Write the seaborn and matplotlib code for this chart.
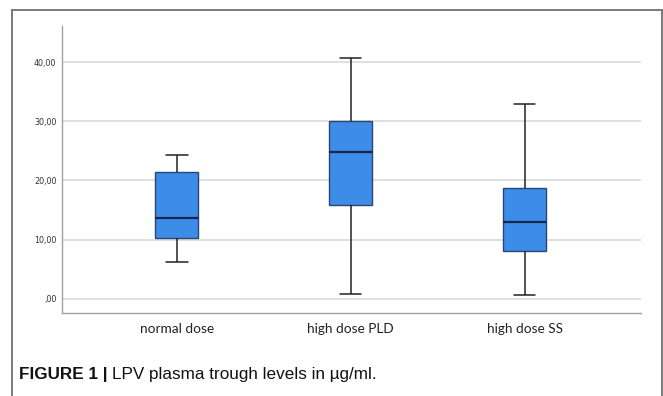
import pandas as pd
import matplotlib
matplotlib.use("Agg")
import matplotlib.pyplot as plt
import seaborn as sns
from matplotlib.ticker import FuncFormatter

# five-number summaries (min, Q1, median, Q3, max), µg/ml
groups = ["normal dose", "high dose PLD", "high dose SS"]
normal_dose = [6.2, 10.2, 13.7, 21.4, 24.3]
high_dose_pld = [0.8, 15.9, 24.8, 30.0, 40.7]
high_dose_ss = [0.6, 8.0, 13.0, 18.8, 32.9]
y_ticks = [0, 10, 20, 30, 40]

df = pd.DataFrame({
    "group": [groups[0]] * 5 + [groups[1]] * 5 + [groups[2]] * 5,
    "level": normal_dose + high_dose_pld + high_dose_ss,
})

sns.set_style("white")
fig = plt.figure(figsize=(6.63, 3.96), dpi=100)

# outer gray frame like the journal figure box
frame = plt.Rectangle((12 / 663, -0.05), 650 / 663, 1 - 10 / 396 + 0.05,
                      transform=fig.transFigure, fill=False,
                      edgecolor="#7a7a7a", linewidth=1.4)
fig.patches.append(frame)

ax = fig.add_axes([62 / 663, 1 - 313 / 396, (641 - 62) / 663, (313 - 26) / 396])

sns.boxplot(data=df, x="group", y="level", order=groups, whis=(0, 100),
            width=0.25, color="#3d8ce8", saturation=1, linewidth=1.1,
            linecolor="#1d2a44",
            medianprops=dict(color="#14264a", linewidth=1.6),
            whiskerprops=dict(color="#222222", linewidth=1.1),
            capprops=dict(color="#222222", linewidth=1.1),
            boxprops=dict(edgecolor="#2a4670", linewidth=1.0),
            ax=ax)

ax.set_ylim(-2.4, 46.1)
ax.set_xlim(-0.66, 2.67)
ax.set_yticks(y_ticks)
ax.yaxis.set_major_formatter(FuncFormatter(
    lambda v, p: ",00" if v == 0 else f"{v:.2f}".replace(".", ",")))
ax.grid(axis="y", color="#d9d9d9", linewidth=1.2)
ax.set_axisbelow(True)
ax.tick_params(axis="y", labelsize=5.8, labelcolor="#333333", length=0, pad=4)
ax.tick_params(axis="x", labelsize=9.8, labelcolor="#222222", length=0, pad=7)
for lab in ax.get_xticklabels():
    lab.set_family(["Lato", "DejaVu Sans"])
ax.set_xlabel("")
ax.set_ylabel("")
for side in ["top", "right"]:
    ax.spines[side].set_visible(False)
for side in ["left", "bottom"]:
    ax.spines[side].set_color("#a0a0a0")
    ax.spines[side].set_linewidth(1.0)

# caption: bold label, then regular text placed right after it
cap_font = ["Liberation Sans", "DejaVu Sans"]
bold = fig.text(19 / 663, 1 - 379 / 396, "FIGURE 1 |", fontsize=12.3,
                fontweight="bold", family=cap_font, color="#111111", va="baseline")
renderer = fig.canvas.get_renderer()
x_end = fig.transFigure.inverted().transform(bold.get_window_extent(renderer))[1, 0]
fig.text(x_end + 4 / 663, 1 - 379 / 396, "LPV plasma trough levels in µg/ml.",
         fontsize=12.3, family=cap_font, color="#111111", va="baseline")

fig.savefig("out.png", dpi=100)
